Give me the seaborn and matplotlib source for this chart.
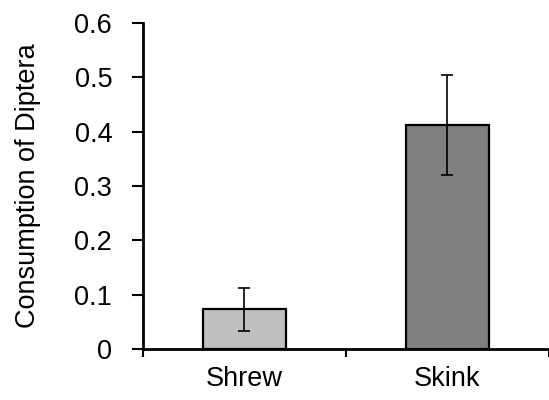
import pandas as pd
import matplotlib
matplotlib.use("Agg")
import matplotlib.pyplot as plt
import seaborn as sns

# data
animals = ["Shrew", "Skink"]
diptera = [0.073, 0.413]
sem = [0.040, 0.092]
bar_colors = ["#C0C0C0", "#808080"]

sns.set_style("ticks", {"text.color": "black", "axes.labelcolor": "black",
                        "xtick.color": "black", "ytick.color": "black",
                        "axes.edgecolor": "black"})
plt.rcParams["font.family"] = ["Liberation Sans", "DejaVu Sans"]

df = pd.DataFrame({"animal": animals, "diptera": diptera})

fig = plt.figure(figsize=(5.49, 4.0), dpi=100)
ax = fig.add_axes([0.26, 0.1275, 0.74, 0.815])

sns.barplot(data=df, x="animal", y="diptera", hue="animal", palette=bar_colors,
            width=0.41, edgecolor="black", linewidth=1.6, errorbar=None,
            legend=False, ax=ax)
ax.errorbar(x=range(len(animals)), y=diptera, yerr=sem, fmt="none",
            ecolor="black", elinewidth=1.2, capsize=4.3, capthick=1.2)

ax.set_xlim(-0.5, 1.5)
ax.set_ylim(0, 0.6)
ax.set_yticks([0, 0.1, 0.2, 0.3, 0.4, 0.5, 0.6])
ax.set_yticklabels(["0", "0.1", "0.2", "0.3", "0.4", "0.5", "0.6"])
ax.tick_params(axis="y", labelsize=19.5, length=8, width=1.5, direction="out",
               pad=14, colors="black")
ax.tick_params(axis="x", which="major", labelsize=19.5, length=0, pad=12,
               colors="black")
ax.set_xticks([-0.5, 0.5, 1.5], minor=True)
ax.tick_params(axis="x", which="minor", length=6, width=1.5, direction="out",
               colors="black")

ax.set_xlabel("")
ax.set_ylabel("Consumption of Diptera", fontsize=19.5, labelpad=24, color="black")

sns.despine(ax=ax)
for side in ["left", "bottom"]:
    ax.spines[side].set_linewidth(2)
    ax.spines[side].set_color("black")
ax.spines["bottom"].set_clip_on(False)

fig.savefig("out.png", dpi=100)
